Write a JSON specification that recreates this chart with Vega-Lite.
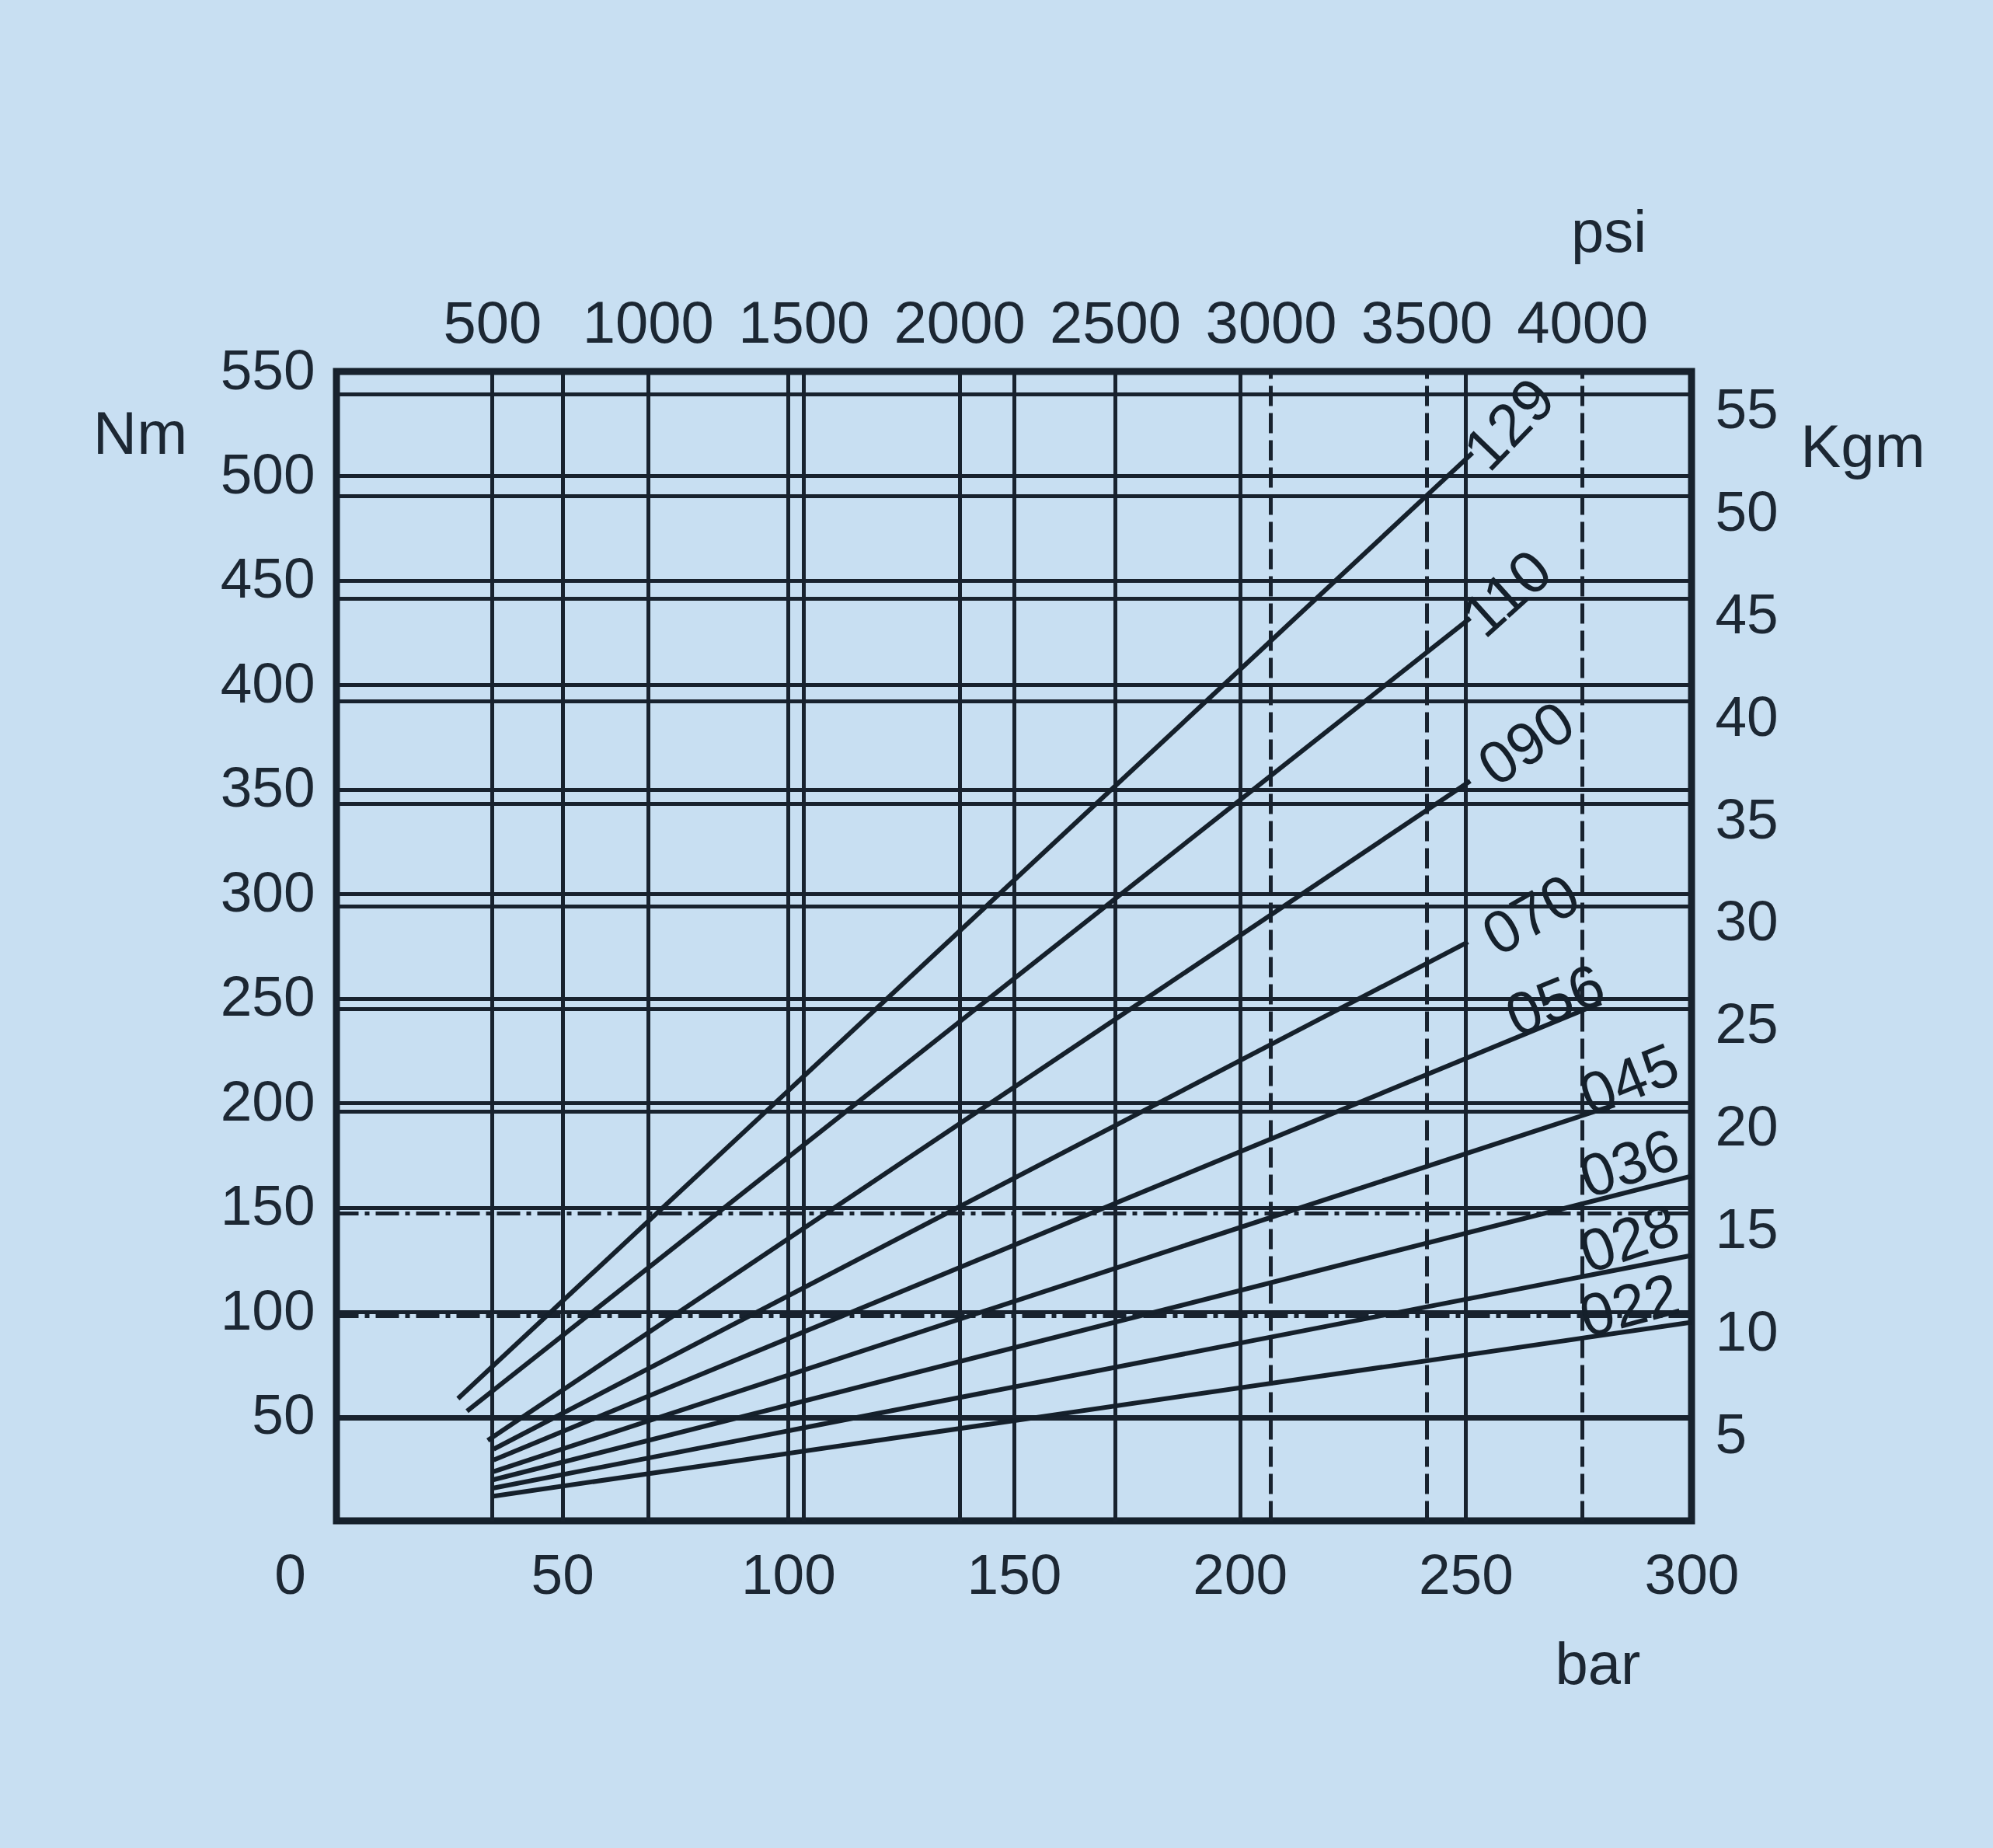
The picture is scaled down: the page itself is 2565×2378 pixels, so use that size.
{
  "$schema": "https://vega.github.io/schema/vega-lite/v6.json",
  "autosize": {"type": "none"},
  "width": 1744,
  "height": 1479,
  "padding": {"left": 433, "top": 478, "right": 388, "bottom": 421},
  "background": "#c8dff2",
  "datasets": {
    "curves": [
      {"model": "129", "bar": 26.9, "Nm": 58.5},
      {"model": "129", "bar": 251.5, "Nm": 511},
      {"model": "110", "bar": 28.9, "Nm": 52.5},
      {"model": "110", "bar": 251, "Nm": 432},
      {"model": "090", "bar": 33.5, "Nm": 38.5},
      {"model": "090", "bar": 251, "Nm": 354},
      {"model": "070", "bar": 34.8, "Nm": 34.3},
      {"model": "070", "bar": 250.5, "Nm": 277},
      {"model": "056", "bar": 34.8, "Nm": 29.1},
      {"model": "056", "bar": 280, "Nm": 248},
      {"model": "045", "bar": 34.8, "Nm": 23.6},
      {"model": "045", "bar": 283, "Nm": 199},
      {"model": "036", "bar": 34.8, "Nm": 19.7},
      {"model": "036", "bar": 300, "Nm": 165},
      {"model": "028", "bar": 34.8, "Nm": 15.7},
      {"model": "028", "bar": 300, "Nm": 127},
      {"model": "022", "bar": 34.8, "Nm": 11.8},
      {"model": "022", "bar": 300, "Nm": 95}
    ],
    "labels": [
      {"model": "129", "bar": 260, "Nm": 524},
      {"model": "110", "bar": 259.4, "Nm": 443},
      {"model": "090", "bar": 263.7, "Nm": 371},
      {"model": "070", "bar": 264.7, "Nm": 289},
      {"model": "056", "bar": 270, "Nm": 248},
      {"model": "045", "bar": 286.4, "Nm": 210},
      {"model": "036", "bar": 286.4, "Nm": 170},
      {"model": "028", "bar": 286.4, "Nm": 134},
      {"model": "022", "bar": 286.4, "Nm": 102}
    ],
    "secondary": [
      {"psi": 0, "Kgm": 0},
      {"psi": 4000, "Kgm": 55}
    ]
  },
  "layer": [
    {
      "layer": [
        {
          "data": {"name": "curves"},
          "mark": {"type": "line", "color": "#15202b", "strokeWidth": 6, "strokeCap": "butt"},
          "encoding": {
            "x": {
              "field": "bar", "type": "quantitative",
              "scale": {"domain": [0, 300], "nice": false, "zero": true},
              "axis": {
                "orient": "bottom",
                "values": [0, 50, 100, 150, 200, 250, 300],
                "grid": true,
                "labelOffset": {"condition": {"test": "datum.value === 0", "value": -60}, "value": 0},
                "labelPadding": 35,
                "labelFontSize": 73,
                "title": "bar",
                "titleFontSize": 76,
                "titleAngle": 0,
                "titleAlign": "center",
                "titleBaseline": "middle",
                "titleX": 1623,
                "titleY": 186
              }
            },
            "y": {
              "field": "Nm", "type": "quantitative",
              "scale": {"domain": [0, 550], "nice": false, "zero": true},
              "axis": {
                "orient": "left",
                "values": [50, 100, 150, 200, 250, 300, 350, 400, 450, 500, 550],
                "grid": true,
                "labelPadding": 28,
                "labelFontSize": 73,
                "title": "Nm",
                "titleFontSize": 78,
                "titleAngle": 0,
                "titleAlign": "center",
                "titleBaseline": "middle",
                "titleX": -253,
                "titleY": 82
              }
            },
            "detail": {"field": "model", "type": "nominal"}
          }
        },
        {
          "data": {"name": "labels"},
          "transform": [{"filter": "datum.model === '129'"}],
          "mark": {"type": "text", "color": "#15202b", "font": "Liberation Sans", "fontSize": 77, "align": "center", "baseline": "middle", "angle": 314},
          "encoding": {
            "x": {"field": "bar", "type": "quantitative"},
            "y": {"field": "Nm", "type": "quantitative"},
            "text": {"field": "model", "type": "nominal"}
          }
        },
        {
          "data": {"name": "labels"},
          "transform": [{"filter": "datum.model === '110'"}],
          "mark": {"type": "text", "color": "#15202b", "font": "Liberation Sans", "fontSize": 77, "align": "center", "baseline": "middle", "angle": 318},
          "encoding": {
            "x": {"field": "bar", "type": "quantitative"},
            "y": {"field": "Nm", "type": "quantitative"},
            "text": {"field": "model", "type": "nominal"}
          }
        },
        {
          "data": {"name": "labels"},
          "transform": [{"filter": "datum.model === '090'"}],
          "mark": {"type": "text", "color": "#15202b", "font": "Liberation Sans", "fontSize": 77, "align": "center", "baseline": "middle", "angle": 326},
          "encoding": {
            "x": {"field": "bar", "type": "quantitative"},
            "y": {"field": "Nm", "type": "quantitative"},
            "text": {"field": "model", "type": "nominal"}
          }
        },
        {
          "data": {"name": "labels"},
          "transform": [{"filter": "datum.model === '070'"}],
          "mark": {"type": "text", "color": "#15202b", "font": "Liberation Sans", "fontSize": 77, "align": "center", "baseline": "middle", "angle": 330},
          "encoding": {
            "x": {"field": "bar", "type": "quantitative"},
            "y": {"field": "Nm", "type": "quantitative"},
            "text": {"field": "model", "type": "nominal"}
          }
        },
        {
          "data": {"name": "labels"},
          "transform": [{"filter": "datum.model === '056' || datum.model === '045'"}],
          "mark": {"type": "text", "color": "#15202b", "font": "Liberation Sans", "fontSize": 77, "align": "center", "baseline": "middle", "angle": 338},
          "encoding": {
            "x": {"field": "bar", "type": "quantitative"},
            "y": {"field": "Nm", "type": "quantitative"},
            "text": {"field": "model", "type": "nominal"}
          }
        },
        {
          "data": {"name": "labels"},
          "transform": [{"filter": "datum.model === '036' || datum.model === '028'"}],
          "mark": {"type": "text", "color": "#15202b", "font": "Liberation Sans", "fontSize": 77, "align": "center", "baseline": "middle", "angle": 341},
          "encoding": {
            "x": {"field": "bar", "type": "quantitative"},
            "y": {"field": "Nm", "type": "quantitative"},
            "text": {"field": "model", "type": "nominal"}
          }
        },
        {
          "data": {"name": "labels"},
          "transform": [{"filter": "datum.model === '022'"}],
          "mark": {"type": "text", "color": "#15202b", "font": "Liberation Sans", "fontSize": 77, "align": "center", "baseline": "middle", "angle": 345},
          "encoding": {
            "x": {"field": "bar", "type": "quantitative"},
            "y": {"field": "Nm", "type": "quantitative"},
            "text": {"field": "model", "type": "nominal"}
          }
        }
      ]
    },
    {
      "data": {"name": "secondary"},
      "mark": {"type": "point", "opacity": 0},
      "encoding": {
        "x": {
          "field": "psi", "type": "quantitative",
          "scale": {"domain": [0, 4351.1], "nice": false, "zero": true},
          "axis": {
            "orient": "top",
            "values": [500, 1000, 1500, 2000, 2500, 3000, 3500, 4000],
            "format": "d",
            "labelLimit": 0,
            "grid": true,
            "gridDash": {"condition": {"test": "datum.value === 3000 || datum.value === 3500 || datum.value === 4000", "value": [26, 9]}, "value": []},
            "labelPadding": 22,
            "labelFontSize": 76,
            "title": "psi",
            "titleFontSize": 76,
            "titleAngle": 0,
            "titleAlign": "center",
            "titleBaseline": "middle",
            "titleX": 1637,
            "titleY": -178
          }
        },
        "y": {
          "field": "Kgm", "type": "quantitative",
          "scale": {"domain": [0, 56.085], "nice": false, "zero": true},
          "axis": {
            "orient": "right",
            "values": [5, 10, 15, 20, 25, 30, 35, 40, 45, 50, 55],
            "grid": true,
            "gridDash": {"condition": {"test": "datum.value === 10 || datum.value === 15", "value": [30, 8, 6, 8]}, "value": []},
            "labelPadding": 30,
            "labelOffset": 22,
            "labelFontSize": 73,
            "title": "Kgm",
            "titleFontSize": 78,
            "titleAngle": 0,
            "titleAlign": "center",
            "titleBaseline": "middle",
            "titleX": 220,
            "titleY": 99
          }
        }
      }
    }
  ],
  "resolve": {"scale": {"x": "independent", "y": "independent"}},
  "config": {
    "view": {"stroke": "#15202b", "strokeWidth": 9, "fill": null},
    "axis": {
      "domain": false,
      "ticks": false,
      "tickSize": 0,
      "gridColor": "#18222e",
      "gridOpacity": 1,
      "gridWidth": 5,
      "labelFont": "Liberation Sans",
      "titleFont": "Liberation Sans",
      "labelColor": "#1c2733",
      "titleColor": "#1c2733",
      "titleFontWeight": "normal",
      "labelOverlap": false,
      "labelFlush": false,
      "labelBound": false
    }
  }
}
